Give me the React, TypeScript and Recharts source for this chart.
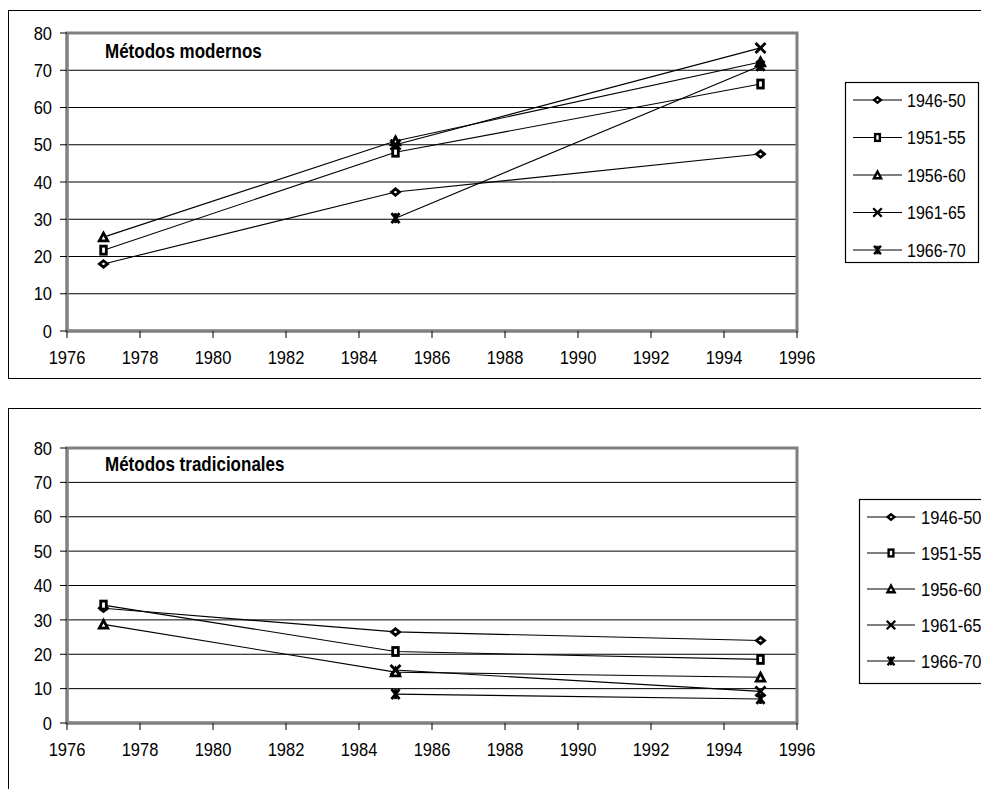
import React from 'react';
import { LineChart, Line, XAxis, YAxis, CartesianGrid, ReferenceArea } from 'recharts';

const YEARS = [1977, 1985, 1995];
const SERIES = ['1946-50', '1951-55', '1956-60', '1961-65', '1966-70'];
const SHAPES = ['diamond', 'square', 'triangle', 'x', 'star'];

// Métodos modernos
const MOD_4650 = [18, 37.3, 47.5];
const MOD_5155 = [21.7, 48, 66.3];
const MOD_5660 = [25.2, 51, 72.2];
const MOD_6165 = [null, 50, 76];
const MOD_6670 = [null, 30.3, 71.2];

// Métodos tradicionales
const TRA_4650 = [33.4, 26.5, 24];
const TRA_5155 = [34.3, 20.8, 18.5];
const TRA_5660 = [28.7, 14.8, 13.3];
const TRA_6165 = [null, 15.4, 9.2];
const TRA_6670 = [null, 8.4, 7];

const X_TICKS = [1976, 1978, 1980, 1982, 1984, 1986, 1988, 1990, 1992, 1994, 1996];
const Y_TICKS = [0, 10, 20, 30, 40, 50, 60, 70, 80];

const FONT = "'Liberation Sans', Arial, sans-serif";
const FS = 16.5;
const SY = 1.15;

function build(series: (number | null)[][]) {
  return YEARS.map((y, i) => {
    const row: any = { year: y };
    series.forEach((s, k) => {
      row['s' + k] = s[i];
    });
    return row;
  });
}

const modernData = build([MOD_4650, MOD_5155, MOD_5660, MOD_6165, MOD_6670]);
const tradData = build([TRA_4650, TRA_5155, TRA_5660, TRA_6165, TRA_6670]);

function Marker({ shape, cx, cy }: { shape: string; cx: number; cy: number }) {
  const sw = 2.8;
  switch (shape) {
    case 'diamond':
      return (
        <polygon
          points={`${cx - 4},${cy} ${cx},${cy - 3.2} ${cx + 4},${cy} ${cx},${cy + 3.2}`}
          fill="#fff"
          stroke="#000"
          strokeWidth={sw}
        />
      );
    case 'square':
      return <rect x={cx - 2.8} y={cy - 4} width={5.6} height={8} fill="#fff" stroke="#000" strokeWidth={sw} />;
    case 'triangle':
      return (
        <polygon
          points={`${cx - 4.2},${cy + 3.8} ${cx},${cy - 4} ${cx + 4.2},${cy + 3.8}`}
          fill="#fff"
          stroke="#000"
          strokeWidth={sw}
        />
      );
    case 'x':
      return (
        <g stroke="#000" strokeWidth={sw}>
          <line x1={cx - 5} y1={cy - 5} x2={cx + 5} y2={cy + 5} />
          <line x1={cx - 5} y1={cy + 5} x2={cx + 5} y2={cy - 5} />
        </g>
      );
    default:
      return (
        <g stroke="#000" strokeWidth={sw}>
          <line x1={cx - 4} y1={cy - 5} x2={cx + 4} y2={cy + 5} />
          <line x1={cx - 4} y1={cy + 5} x2={cx + 4} y2={cy - 5} />
          <line x1={cx} y1={cy - 5} x2={cx} y2={cy + 5} />
        </g>
      );
  }
}

function makeDot(shape: string) {
  return (props: any) => {
    const { cx, cy, value, index } = props;
    const key = `${shape}-${index}`;
    if (value == null || cx == null || cy == null || isNaN(cy)) return <g key={key} />;
    return (
      <g key={key}>
        <Marker shape={shape} cx={cx} cy={cy} />
      </g>
    );
  };
}

function XTick(props: any) {
  const { x, y, payload } = props;
  return (
    <g transform={`translate(${x},${y}) scale(1,${SY})`}>
      <text x={0} y={0} dy="0.71em" textAnchor="middle" fontFamily={FONT} fontSize={FS} fill="#000">
        {payload.value}
      </text>
    </g>
  );
}

function YTick(props: any) {
  const { x, y, payload } = props;
  return (
    <g transform={`translate(${x},${y}) scale(1,${SY})`}>
      <text x={0} y={0} dy="0.355em" textAnchor="end" fontFamily={FONT} fontSize={FS} fill="#000">
        {payload.value}
      </text>
    </g>
  );
}

function LegendBox({ left, top, width, height, step, lineStart, lineEnd, textX, fontSize }: any) {
  return (
    <svg style={{ position: 'absolute', left, top, overflow: 'visible' }} width={width} height={height}>
      <rect x={0.5} y={0.5} width={width - 1} height={height - 1} fill="#fff" stroke="#000" strokeWidth={1.2} />
      {SERIES.map((name, i) => {
        const cy = 18 + i * step;
        const mid = (lineStart + lineEnd) / 2;
        return (
          <g key={name}>
            <line x1={lineStart} y1={cy} x2={lineEnd} y2={cy} stroke="#000" strokeWidth={1} />
            <g transform={`translate(${mid},${cy}) scale(0.85)`}>
              <Marker shape={SHAPES[i]} cx={0} cy={0} />
            </g>
            <g transform={`translate(${textX},${cy}) scale(1,${SY})`}>
              <text x={0} y={0} dy="0.36em" fontFamily={FONT} fontSize={fontSize} fill="#000">
                {name}
              </text>
            </g>
          </g>
        );
      })}
    </svg>
  );
}

function Panel({ data, height, marginTop, marginBottom }: any) {
  return (
    <LineChart
      width={981}
      height={height}
      data={data}
      margin={{ top: marginTop, right: 192, bottom: marginBottom, left: 19 }}
    >
      <CartesianGrid horizontal={true} vertical={false} stroke="#000" strokeWidth={1} />
      <XAxis
        type="number"
        dataKey="year"
        domain={[1976, 1996]}
        ticks={X_TICKS}
        interval={0}
        allowDecimals={false}
        height={30}
        axisLine={{ stroke: '#808080', strokeWidth: 3 }}
        tickLine={{ stroke: '#000', strokeWidth: 1 }}
        tickSize={7}
        tickMargin={13}
        tick={<XTick />}
      />
      <YAxis
        type="number"
        domain={[0, 80]}
        ticks={Y_TICKS}
        interval={0}
        width={40}
        axisLine={{ stroke: '#808080', strokeWidth: 3 }}
        tickLine={{ stroke: '#000', strokeWidth: 1 }}
        tickSize={7}
        tickMargin={8}
        tick={<YTick />}
      />
      <ReferenceArea
        x1={1976}
        x2={1996}
        y1={0}
        y2={80}
        fill="none"
        fillOpacity={0}
        stroke="#808080"
        strokeWidth={3}
        ifOverflow="visible"
      />
      {SERIES.map((name, k) => (
        <Line
          key={name}
          name={name}
          dataKey={'s' + k}
          stroke="#000"
          strokeWidth={1.1}
          dot={makeDot(SHAPES[k])}
          activeDot={false}
          isAnimationActive={false}
          connectNulls={false}
        />
      ))}
    </LineChart>
  );
}

const titleStyle: React.CSSProperties = {
  position: 'absolute',
  left: 97,
  fontFamily: FONT,
  fontWeight: 'bold',
  fontSize: 17,
  lineHeight: '20px',
  color: '#000',
  whiteSpace: 'nowrap',
  transform: `scaleY(${SY})`,
  transformOrigin: 'left center',
};

export default function App() {
  return (
    <div style={{ position: 'relative', width: 981, height: 781, overflow: 'hidden', background: '#fff' }}>
      <div
        style={{
          position: 'absolute',
          left: 0,
          top: 2,
          width: 1000,
          height: 369,
          border: '1.5px solid #000',
          boxSizing: 'border-box',
        }}
      />
      <div
        style={{
          position: 'absolute',
          left: 0,
          top: 400,
          width: 1000,
          height: 420,
          border: '1.5px solid #000',
          boxSizing: 'border-box',
        }}
      />
      <div style={{ position: 'absolute', left: 0, top: 0 }}>
        <Panel data={modernData} height={370} marginTop={25} marginBottom={17} />
      </div>
      <div style={{ position: 'absolute', left: 0, top: 400 }}>
        <Panel data={tradData} height={381} marginTop={40} marginBottom={36} />
      </div>
      <div style={{ ...titleStyle, top: 34 }}>Métodos modernos</div>
      <div style={{ ...titleStyle, top: 447 }}>Métodos tradicionales</div>
      <LegendBox left={837} top={74} width={134} height={181} step={37.5} lineStart={8} lineEnd={57} textX={62} fontSize={16} />
      <LegendBox left={851} top={491} width={145} height={185} step={36} lineStart={8} lineEnd={56} textX={62} fontSize={16.5} />
    </div>
  );
}
